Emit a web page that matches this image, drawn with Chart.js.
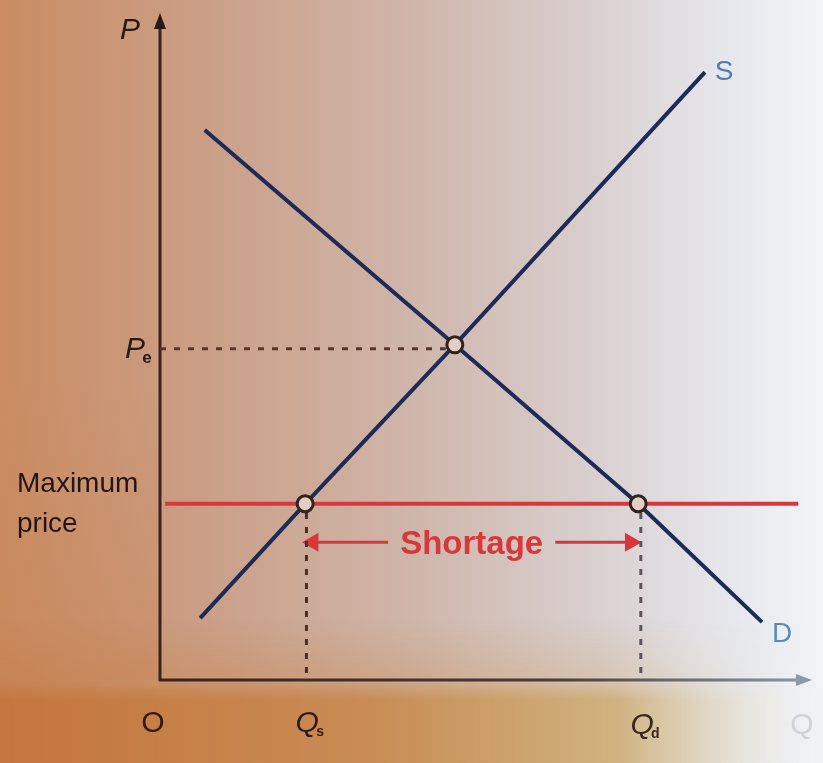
<!DOCTYPE html>
<html>
<head>
<meta charset="utf-8">
<script src="https://cdn.jsdelivr.net/npm/chart.js@4.4.1/dist/chart.umd.min.js"></script>
<style>
  html, body { margin: 0; padding: 0; background: #d6b6a4; }
  #wrap { width: 823px; height: 763px; }
</style>
</head>
<body>
<div id="wrap"><canvas id="myChart" width="823" height="763"></canvas></div>
<script>
// quantity on x, price on y (arbitrary units 0..10)
const supplyQ = [0.62, 2.24, 4.55, 8.41];
const supplyP = [0.93, 2.65, 5.04, 9.14];
const demandQ = [0.69, 4.55, 7.38, 9.29];
const demandP = [8.27, 5.04, 2.65, 0.87];
const maxPrice = 2.65;
const maxPriceRange = [0.08, 9.85];
const eqQ = 4.55;
const eqP = 5.04;
const qs = 2.24;
const qd = 7.38;
const shortageY = 2.07;
const tickLabels = ['O', 'Qs', 'Qd', 'Q'];

const navy = '#1e2a58';
const red = '#d8383c';

function pts(xs, ys) {
    return xs.map((x, i) => ({ x: x, y: ys[i] }));
}

const data = {
    datasets: [
        {
            label: 'points',
            data: [{ x: qs, y: maxPrice }, { x: eqQ, y: eqP }, { x: qd, y: maxPrice }],
            borderColor: '#34221e',
            backgroundColor: '#e4cfc4',
            borderWidth: 3,
            pointRadius: 8,
            showLine: false,
            order: -1,
        },
        {
            label: 'S',
            data: pts(supplyQ, supplyP),
            borderColor: navy,
            borderWidth: 4,
            pointRadius: 0,
            showLine: true,
        },
        {
            label: 'D',
            data: pts(demandQ, demandP),
            borderColor: navy,
            borderWidth: 4,
            pointRadius: 0,
            showLine: true,
        },
        {
            label: 'Maximum price',
            data: [{ x: maxPriceRange[0], y: maxPrice }, { x: maxPriceRange[1], y: maxPrice }],
            borderColor: red,
            borderWidth: 4,
            pointRadius: 0,
            showLine: true,
        },
        {
            label: 'Pe',
            data: [{ x: 0, y: eqP - 0.06 }, { x: eqQ - 0.14, y: eqP - 0.06 }],
            borderColor: '#5a3528',
            borderWidth: 3,
            borderDash: [6, 8],
            pointRadius: 0,
            showLine: true,
        },
        {
            label: 'Qs',
            data: [{ x: qs + 0.02, y: maxPrice - 0.14 }, { x: qs + 0.02, y: 0 }],
            borderColor: '#4a3028',
            borderWidth: 3,
            borderDash: [6, 8],
            pointRadius: 0,
            showLine: true,
        },
        {
            label: 'Qd',
            data: [{ x: qd + 0.04, y: maxPrice - 0.14 }, { x: qd + 0.04, y: 0 }],
            borderColor: '#5c5560',
            borderWidth: 3,
            borderDash: [6, 8],
            pointRadius: 0,
            showLine: true,
        },
        {
            label: 'arrow left',
            data: [{ x: qs + 0.12, y: shortageY }, { x: 3.52, y: shortageY }],
            borderColor: red,
            backgroundColor: red,
            borderWidth: 3,
            pointRadius: [8, 0],
            pointStyle: 'triangle',
            rotation: -90,
            showLine: true,
        },
        {
            label: 'arrow right',
            data: [{ x: 6.1, y: shortageY }, { x: qd - 0.12, y: shortageY }],
            borderColor: red,
            backgroundColor: red,
            borderWidth: 3,
            pointRadius: [0, 8],
            pointStyle: 'triangle',
            rotation: 90,
            showLine: true,
        },
    ]
};

const paper = {
    id: 'paper',
    beforeDraw(chart) {
        const ctx = chart.ctx;
        const w = chart.width, h = chart.height;
        let g = ctx.createLinearGradient(0, 0, w, 0);
        g.addColorStop(0, '#c98c62');
        g.addColorStop(0.25, '#cb9f87');
        g.addColorStop(0.5, '#cfb6aa');
        g.addColorStop(0.72, '#d9cfcf');
        g.addColorStop(0.88, '#e6e7ec');
        g.addColorStop(1, '#f2f4f7');
        ctx.save();
        ctx.fillStyle = g;
        ctx.fillRect(0, 0, w, h);
        const bottom = chart.chartArea.bottom;
        // warm lower band, faded in softly
        const off = document.createElement('canvas');
        off.width = w; off.height = h;
        const o = off.getContext('2d');
        let g2 = o.createLinearGradient(0, 0, w, 0);
        g2.addColorStop(0, 'rgba(196,118,62,1)');
        g2.addColorStop(0.45, 'rgba(200,138,80,0.95)');
        g2.addColorStop(0.75, 'rgba(206,172,112,0.85)');
        g2.addColorStop(0.92, 'rgba(232,228,215,0.5)');
        g2.addColorStop(1, 'rgba(240,240,235,0)');
        o.fillStyle = g2;
        o.fillRect(0, bottom - 60, w, h - bottom + 60);
        o.globalCompositeOperation = 'destination-in';
        let gv = o.createLinearGradient(0, bottom - 60, 0, bottom + 20);
        gv.addColorStop(0, 'rgba(0,0,0,0)');
        gv.addColorStop(0.75, 'rgba(0,0,0,0.35)');
        gv.addColorStop(1, 'rgba(0,0,0,1)');
        o.fillStyle = gv;
        o.fillRect(0, 0, w, h);
        ctx.drawImage(off, 0, 0);
        let g3 = ctx.createLinearGradient(0, 380, 0, bottom);
        g3.addColorStop(0, 'rgba(200,130,80,0)');
        g3.addColorStop(1, 'rgba(200,130,80,0.35)');
        ctx.fillStyle = g3;
        ctx.fillRect(0, 380, 160, bottom - 380);
        ctx.restore();
    },
    beforeDatasetsDraw(chart) {
        const ctx = chart.ctx;
        const a = chart.chartArea;
        const x = chart.scales.x, y = chart.scales.y;
        const x0 = x.getPixelForValue(0), y0 = y.getPixelForValue(0);
        ctx.save();
        // y axis
        ctx.strokeStyle = '#3c2218';
        ctx.fillStyle = '#2a1a16';
        ctx.lineWidth = 3;
        ctx.beginPath();
        ctx.moveTo(x0, y0 + 1);
        ctx.lineTo(x0, a.top + 10);
        ctx.stroke();
        ctx.beginPath();
        ctx.moveTo(x0, a.top - 2);
        ctx.lineTo(x0 - 6, a.top + 14);
        ctx.lineTo(x0 + 6, a.top + 14);
        ctx.closePath();
        ctx.fill();
        // x axis
        let gx = ctx.createLinearGradient(x0, 0, a.right, 0);
        gx.addColorStop(0, '#3c2218');
        gx.addColorStop(0.6, '#4a3a38');
        gx.addColorStop(1, '#8a98a8');
        ctx.strokeStyle = gx;
        ctx.beginPath();
        ctx.moveTo(x0 - 1, y0);
        ctx.lineTo(a.right - 8, y0);
        ctx.stroke();
        ctx.fillStyle = '#8a9aaa';
        ctx.beginPath();
        ctx.moveTo(a.right + 4, y0);
        ctx.lineTo(a.right - 12, y0 - 6);
        ctx.lineTo(a.right - 12, y0 + 6);
        ctx.closePath();
        ctx.fill();
        ctx.restore();
    },
    afterDatasetsDraw(chart) {
        const ctx = chart.ctx;
        const a = chart.chartArea;
        const x = chart.scales.x, y = chart.scales.y;
        const font = '"Liberation Sans", Arial, sans-serif';
        ctx.save();
        ctx.textBaseline = 'alphabetic';
        ctx.textAlign = 'center';

        // axis names
        ctx.fillStyle = '#2e1812';
        ctx.font = 'italic 30px ' + font;
        ctx.fillText('P', x.getPixelForValue(0) - 30, a.top + 24);

        // Pe
        const pey = y.getPixelForValue(eqP);
        ctx.fillText('P', x.getPixelForValue(0) - 25, pey + 13);
        ctx.font = 'bold 17px ' + font;
        ctx.fillText('e', x.getPixelForValue(0) - 13, pey + 18);

        // Maximum price
        ctx.textAlign = 'left';
        ctx.font = '28px ' + font;
        ctx.fillStyle = '#24140f';
        const mpy = y.getPixelForValue(maxPrice);
        ctx.fillText('Maximum', 17, mpy - 12, 133);
        ctx.fillText('price', 17, mpy + 28);

        // x tick labels
        ctx.textAlign = 'center';
        const by = y.getPixelForValue(0) + 52;
        ctx.font = '30px ' + font;
        ctx.fillStyle = '#33180f';
        ctx.fillText(tickLabels[0], x.getPixelForValue(0) - 7, by);
        ctx.font = 'italic 30px ' + font;
        ctx.fillText(tickLabels[1][0], x.getPixelForValue(qs) + 2, by);
        ctx.font = 'bold 14px ' + font;
        ctx.fillText(tickLabels[1][1], x.getPixelForValue(qs) + 15, by + 4);
        ctx.font = 'italic 30px ' + font;
        ctx.fillStyle = '#3a261e';
        ctx.fillText(tickLabels[2][0], x.getPixelForValue(qd) + 4, by + 2);
        ctx.font = 'bold 14px ' + font;
        ctx.fillText(tickLabels[2][1], x.getPixelForValue(qd) + 17, by + 6);
        ctx.font = '30px ' + font;
        ctx.fillStyle = '#cfd3d8';
        ctx.fillText(tickLabels[3], a.right - 6, by + 2);

        // curve labels
        ctx.fillStyle = '#4c7db2';
        ctx.font = '28px ' + font;
        const sq = supplyQ[supplyQ.length - 1], sp = supplyP[supplyP.length - 1];
        ctx.fillText('S', x.getPixelForValue(sq) + 19, y.getPixelForValue(sp) + 8);
        const dq = demandQ[demandQ.length - 1], dp = demandP[demandP.length - 1];
        ctx.fillStyle = '#5a8cc2';
        ctx.fillText('D', x.getPixelForValue(dq) + 20, y.getPixelForValue(dp) + 20);

        // Shortage
        ctx.fillStyle = red;
        ctx.font = 'bold 33px ' + font;
        ctx.fillText('Shortage', x.getPixelForValue((3.52 + 6.1) / 2), y.getPixelForValue(shortageY) + 12, 148);
        ctx.restore();
    }
};

const config = {
    type: 'scatter',
    data: data,
    options: {
        responsive: false,
        animation: false,
        layout: { padding: { left: 160, right: 15, top: 15, bottom: 83 } },
        plugins: {
            legend: { display: false },
            tooltip: { enabled: false },
        },
        scales: {
            x: { type: 'linear', min: 0, max: 10, display: false },
            y: { type: 'linear', min: 0, max: 10, display: false },
        },
    },
    plugins: [paper],
};

var myChart = new Chart(
    document.getElementById('myChart'),
    config
);
</script>
</body>
</html>
